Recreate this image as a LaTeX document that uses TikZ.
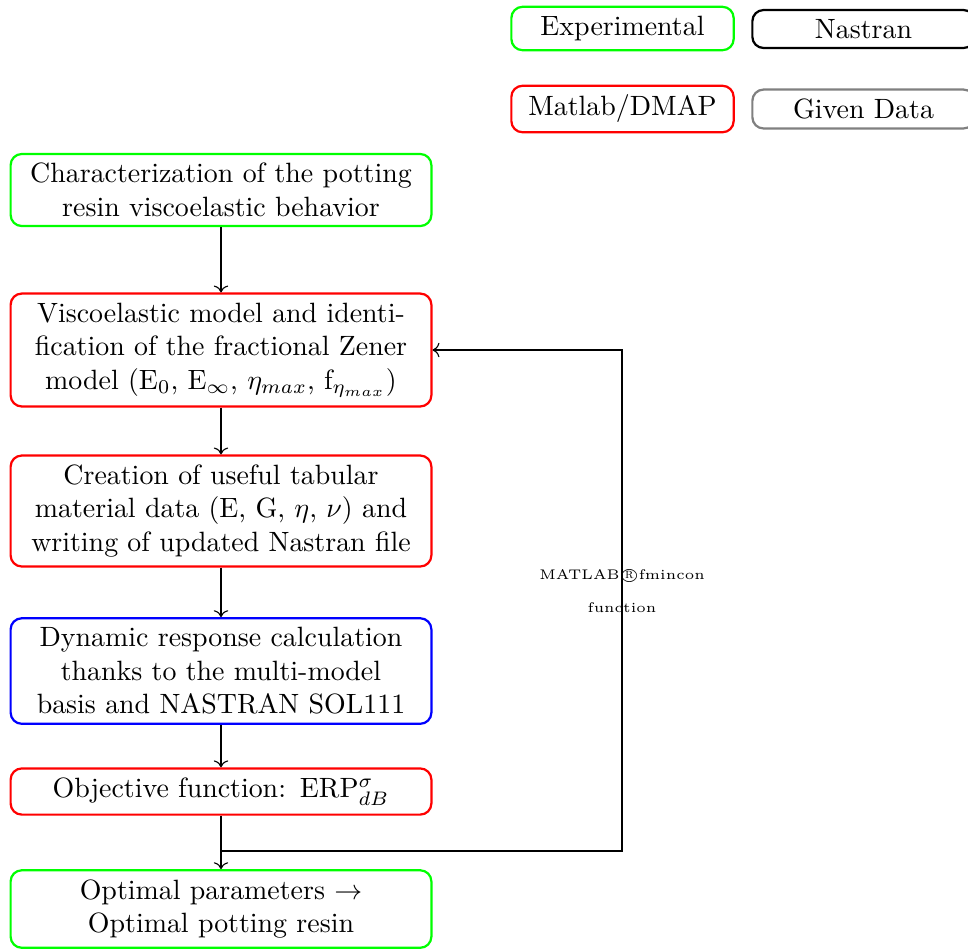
\documentclass[tikz,border=0pt]{standalone}
\usetikzlibrary{arrows.meta}
\tikzset{
  flow/.style={draw, thick, rounded corners=4pt, text width=5cm, align=center, minimum width=5.3cm},
  legend/.style={draw, thick, rounded corners=4pt, minimum width=2.8cm, align=center},
  conn/.style={->},
}
\begin{document}
\begin{tikzpicture}[x=0.3584pt,y=-0.3584pt]
\useasboundingbox (0,0) rectangle (968,950);
% legend
\node[legend, draw=green] (exp) at (622.5,28.5) {Experimental};
\node[legend, draw=black] (nas) at (863.5,29) {Nastran};
\node[legend, draw=red] (mat) at (622.5,109) {Matlab/DMAP};
\node[legend, draw=gray] (giv) at (863.5,109) {Given Data};
% flow
\node[flow, draw=green] (b1) at (221,190) {Characterization of the potting resin viscoelastic behavior};
\node[flow, draw=red] (b2) at (221,350) {Viscoelastic model and identification of the fractional Zener model (E$_0$, E$_\infty$, $\eta_{max}$, f$_{\eta_{max}}$)};
\node[flow, draw=red] (b3) at (221,511) {Creation of useful tabular material data (E, G, $\eta$, $\nu$) and writing of updated Nastran file};
\node[flow, draw=blue] (b4) at (221,671) {Dynamic response calculation thanks to the multi-model basis and NASTRAN SOL111};
\node[flow, draw=red] (b5) at (221,791.5) {Objective function: ERP$^{\sigma}_{dB}$};
\node[flow, draw=green] (b6) at (221,909) {Optimal parameters $\rightarrow$ Optimal potting resin};
% connectors
\draw[conn] (b1) -- (b2);
\draw[conn] (b2) -- (b3);
\draw[conn] (b3) -- (b4);
\draw[conn] (b4) -- (b5);
\draw[conn] (b5) -- (b6);
\coordinate (split) at (221,851);
\coordinate (corner) at (622,851);
\draw[conn] (split) -- (corner) |- (b2.east);
\node[font=\tiny, align=center] (lbl) at (622,591) {MATLAB\textcircled{\textsc{r}}fmincon\\[6pt]function};
\end{tikzpicture}
\end{document}
